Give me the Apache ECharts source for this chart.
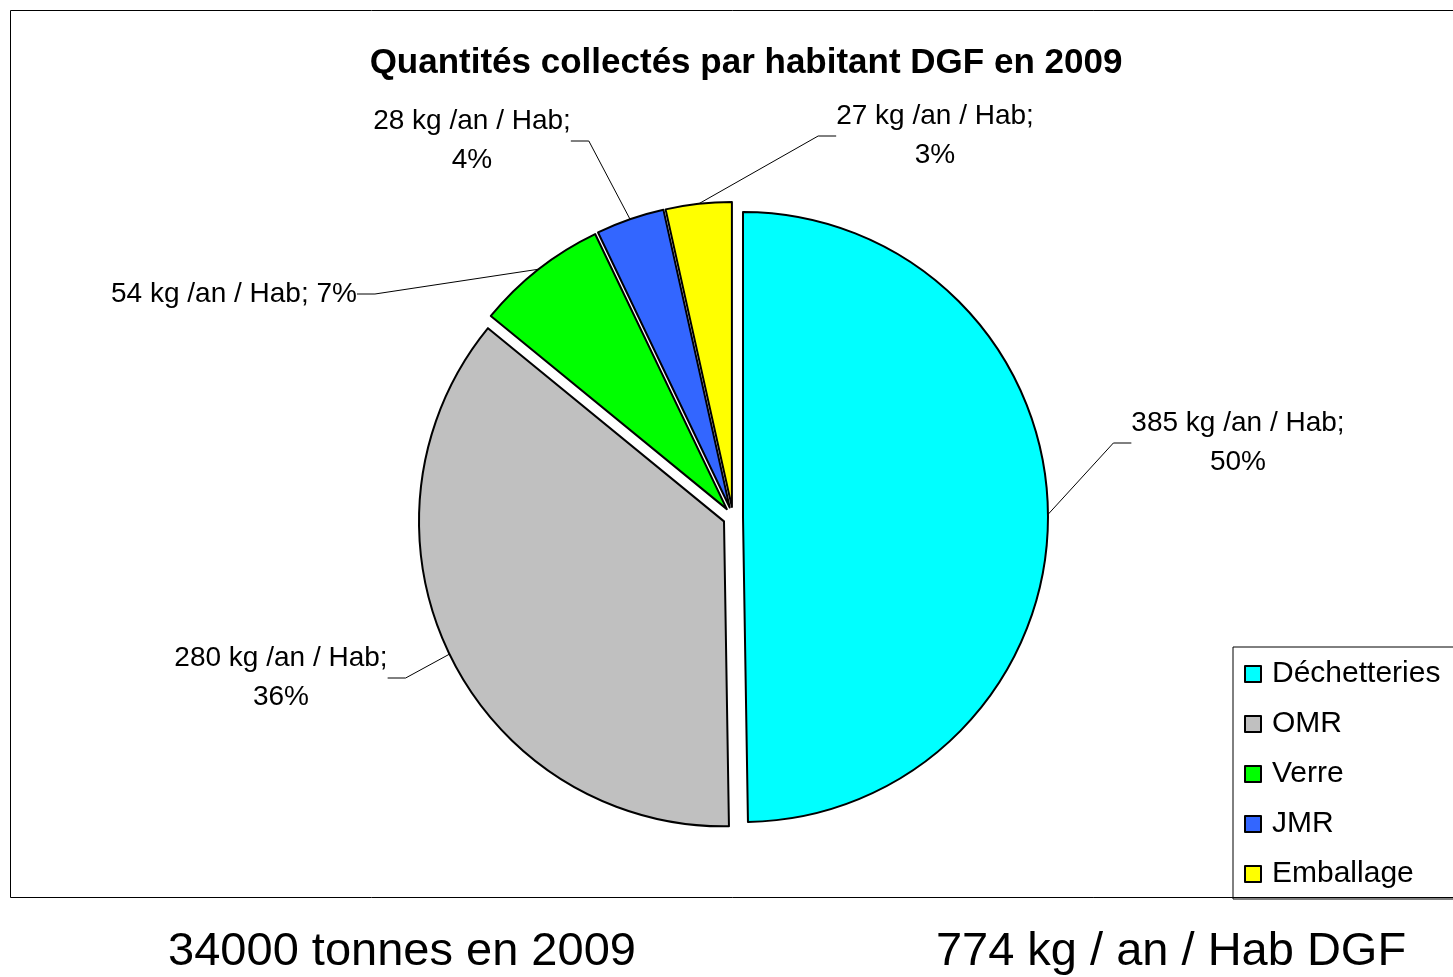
<!DOCTYPE html>
<html>
<head>
<meta charset="utf-8">
<title>Quantités collectés par habitant DGF en 2009</title>
<script src="https://cdn.jsdelivr.net/npm/echarts@6/dist/echarts.min.js"></script>
<style>
  html, body { margin: 0; padding: 0; background: #fff; }
  #chart { width: 1453px; height: 977px; }
</style>
</head>
<body>
<div id="chart"></div>
<script>
// data (kg / an / habitant)
const categories = ['Déchetteries', 'OMR', 'Verre', 'JMR', 'Emballage']
const values = [385, 280, 54, 28, 27]
const colors = ['#00FFFF', '#C0C0C0', '#00FF00', '#3366FF', '#FFFF00']

// where each slice label sits (centre of text block)
const labelPos = [[1238, 443], [281, 678], [234, 294], [472, 141], [935, 136]]

const chart = echarts.init(document.getElementById('chart'))
const font = '"Liberation Sans", Arial, sans-serif'

const pieCenter = [733, 517]
const pieRadius = 305
const explode = 10

chart.setOption({
  backgroundColor: '#fff',
  animation: false,
  title: [
    {
      text: 'Quantités collectés par habitant DGF en 2009',
      left: 741, top: 41, textAlign: 'center',
      textStyle: { fontFamily: font, fontSize: 35, fontWeight: 'bold', color: '#000' },
    },
    {
      text: '34000 tonnes en 2009',
      left: 397, top: 924, textAlign: 'center',
      textStyle: { fontFamily: font, fontSize: 47, fontWeight: 'normal', color: '#000' },
    },
    {
      text: '774 kg / an / Hab DGF',
      left: 1166, top: 924, textAlign: 'center',
      textStyle: { fontFamily: font, fontSize: 47, fontWeight: 'normal', color: '#000' },
    },
  ],
  graphic: [
    {
      type: 'rect', z: -1, silent: true,
      shape: { x: 10.5, y: 10.5, width: 1460, height: 887 },
      style: { fill: 'none', stroke: '#000', lineWidth: 1 },
    },
  ],
  legend: {
    orient: 'vertical',
    left: 1233, top: 647,
    padding: [12, 30, 10, 11],
    itemGap: 20,
    itemWidth: 16, itemHeight: 16,
    icon: 'rect',
    borderColor: '#000', borderWidth: 1,
    selectedMode: false,
    itemStyle: { borderColor: '#000', borderWidth: 2 },
    textStyle: { fontFamily: font, fontSize: 30, color: '#000', padding: [0, 0, 0, 6] },
    data: categories,
  },
  series: [
    // the exploded slices
    {
      type: 'pie',
      center: pieCenter,
      radius: pieRadius,
      startAngle: 90,
      clockwise: true,
      selectedMode: 'multiple',
      selectedOffset: explode,
      emphasis: { disabled: true },
      itemStyle: { borderColor: '#000', borderWidth: 2 },
      label: { show: false },
      labelLine: { show: false },
      data: categories.map((name, i) => ({
        name,
        value: values[i],
        selected: true,
        itemStyle: { color: colors[i] },
      })),
    },
    // same pie, invisible, carrying the data labels
    {
      type: 'pie',
      center: pieCenter,
      radius: pieRadius + explode,
      startAngle: 90,
      clockwise: true,
      silent: true,
      z: 3,
      emphasis: { disabled: true },
      itemStyle: { color: 'rgba(0,0,0,0)', borderWidth: 0 },
      label: {
        show: true,
        fontFamily: font,
        fontSize: 28,
        lineHeight: 39,
        color: '#000',
        align: 'center',
        formatter: (p) => p.value + ' kg /an / Hab;' + (p.dataIndex === 2 ? ' ' : '\n') + Math.round(p.percent) + '%',
      },
      labelLine: { show: true, length: 20, length2: 18, lineStyle: { color: '#000', width: 1 } },
      labelLayout: (p) => ({
        x: labelPos[p.dataIndex][0],
        y: labelPos[p.dataIndex][1],
        align: 'center',
        verticalAlign: 'middle',
      }),
      data: categories.map((name, i) => ({ name, value: values[i] })),
    },
  ],
})
</script>
</body>
</html>
